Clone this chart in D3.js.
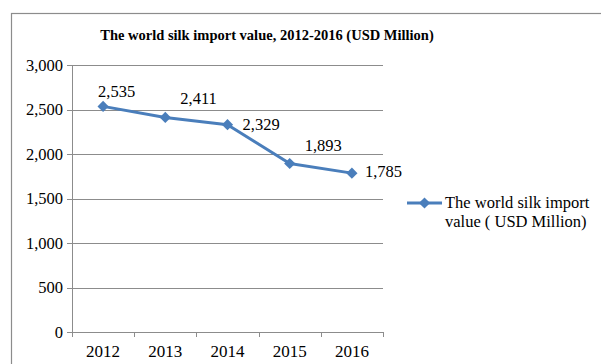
<!DOCTYPE html>
<html>
<head>
<meta charset="utf-8">
<script src="https://cdn.jsdelivr.net/npm/d3@7"></script>
<style>
  body { margin: 0; background: #fff; }
</style>
</head>
<body>
<div id="chart"></div>
<script>
const years = ['2012', '2013', '2014', '2015', '2016'];
const importValues = [2535, 2411, 2329, 1893, 1785];
const yTicks = [0, 500, 1000, 1500, 2000, 2500, 3000];
const seriesName = ['The world silk import', 'value ( USD Million)'];
const chartTitle = 'The world silk import value, 2012-2016 (USD Million)';

// label nudges relative to each point (dx, dy)
const labelOffsets = [[-5, -9], [15, -13], [15, 5], [15, -13], [13, 4]];

const width = 601, height = 364;
const margin = { top: 65, right: 218, bottom: 32, left: 72 };
const plotW = width - margin.left - margin.right;
const plotH = height - margin.top - margin.bottom;
const blue = '#4a7ebb';
const gray = '#8c8c8c';
const serif = '"Liberation Serif", "Times New Roman", serif';

const svg = d3.select('#chart').append('svg')
  .attr('width', width)
  .attr('height', height);

// outer chart frame
svg.append('rect')
  .attr('x', 11.5).attr('y', 13.5)
  .attr('width', 620).attr('height', 400)
  .attr('fill', 'none')
  .attr('stroke', gray)
  .attr('stroke-width', 1.2);

svg.append('text')
  .attr('x', 267).attr('y', 40)
  .attr('text-anchor', 'middle')
  .style('font-family', serif)
  .style('font-size', '14.5px')
  .style('font-weight', 'bold')
  .text(chartTitle);

const g = svg.append('g')
  .attr('transform', `translate(${margin.left},${margin.top})`);

const x = d3.scaleBand().domain(years).range([0, plotW]);
const y = d3.scaleLinear().domain([0, 3000]).range([plotH, 0]);

// gridlines
const grid = g.append('g')
  .call(d3.axisLeft(y).tickValues(yTicks).tickSize(-plotW).tickFormat(''));
grid.select('.domain').remove();
grid.selectAll('line').attr('stroke', gray).attr('shape-rendering', 'crispEdges');

// y axis with small outside ticks
const yAxis = g.append('g')
  .call(d3.axisLeft(y).tickValues(yTicks).tickSize(5).tickSizeOuter(0)
    .tickFormat(d3.format(',')));
yAxis.select('.domain').attr('stroke', gray).attr('shape-rendering', 'crispEdges');
yAxis.selectAll('line').attr('stroke', gray).attr('shape-rendering', 'crispEdges');
yAxis.selectAll('text')
  .attr('x', -9)
  .attr('fill', '#000')
  .style('font-family', serif)
  .style('font-size', '16.5px');

// x axis: ticks on category boundaries
const xEdge = d3.scaleLinear().domain([0, years.length]).range([0, plotW]);
const xAxis = g.append('g')
  .attr('transform', `translate(0,${plotH})`)
  .call(d3.axisBottom(xEdge).tickValues(d3.range(years.length + 1)).tickSize(5)
    .tickSizeOuter(0).tickFormat(''));
xAxis.select('.domain').attr('stroke', gray).attr('shape-rendering', 'crispEdges');
xAxis.selectAll('line').attr('stroke', gray).attr('shape-rendering', 'crispEdges');

g.append('g')
  .selectAll('text')
  .data(years)
  .join('text')
  .attr('x', d => x(d) + x.bandwidth() / 2)
  .attr('y', plotH + 25)
  .attr('text-anchor', 'middle')
  .style('font-family', serif)
  .style('font-size', '17px')
  .text(d => d);

const cx = (d, i) => x(years[i]) + x.bandwidth() / 2;

const line = d3.line()
  .x((d, i) => cx(d, i))
  .y(d => y(d));

g.append('path')
  .datum(importValues)
  .attr('d', line)
  .attr('fill', 'none')
  .attr('stroke', blue)
  .attr('stroke-width', 3)
  .attr('stroke-linejoin', 'round');

const diamond = d3.symbol().type(d3.symbolDiamond2).size(80);

g.selectAll('.pt')
  .data(importValues)
  .join('path')
  .attr('class', 'pt')
  .attr('transform', (d, i) => `translate(${cx(d, i)},${y(d)})`)
  .attr('d', diamond)
  .attr('fill', blue);

g.selectAll('.lbl')
  .data(importValues)
  .join('text')
  .attr('class', 'lbl')
  .attr('x', (d, i) => cx(d, i) + labelOffsets[i][0])
  .attr('y', (d, i) => y(d) + labelOffsets[i][1])
  .style('font-family', serif)
  .style('font-size', '16.5px')
  .text(d3.format(','));

// legend
const lg = svg.append('g').attr('transform', 'translate(407,203)');
lg.append('line')
  .attr('x1', 0).attr('x2', 35)
  .attr('stroke', blue).attr('stroke-width', 3);
lg.append('path')
  .attr('transform', 'translate(17.5,0)')
  .attr('d', diamond)
  .attr('fill', blue);
lg.append('text')
  .attr('x', 38).attr('y', 5)
  .style('font-family', serif)
  .style('font-size', '16.5px')
  .selectAll('tspan')
  .data(seriesName)
  .join('tspan')
  .attr('x', 38)
  .attr('dy', (d, i) => i ? 19 : 0)
  .text(d => d);
</script>
</body>
</html>
